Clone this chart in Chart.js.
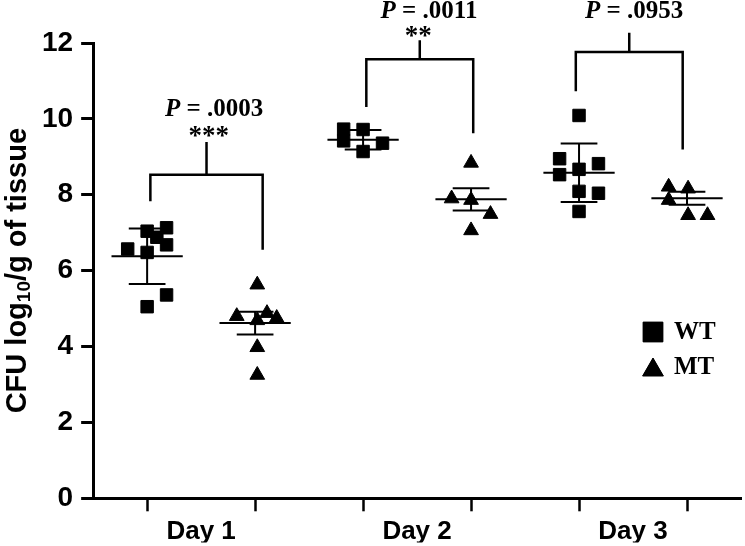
<!DOCTYPE html>
<html>
<head>
<meta charset="utf-8">
<script src="https://cdn.jsdelivr.net/npm/chart.js@4.4.1/dist/chart.umd.min.js"></script>
<style>
  html, body { margin: 0; background: #fff; overflow: hidden; }
  canvas { display: block; }
</style>
</head>
<body>
<canvas id="grafico" width="745" height="546"></canvas>
<script>
// ===========================
// DATOS
// ===========================
const dias = ["Day 1", "Day 2", "Day 3"];
const grupos = ["WT", "MT"];

// valores por dia (log10 CFU/g) y desplazamiento horizontal dentro del grupo
const wtValores = [
  [6.57, 7.04, 6.88, 7.13, 6.68, 6.48, 5.36, 5.05],
  [9.73, 9.42, 9.72, 9.14, 9.36],
  [10.09, 8.95, 8.53, 8.67, 8.82, 8.09, 8.04, 7.56]
];
const wtJitter = [
  [-0.18, 0, 0.09, 0.18, 0.18, 0, 0.18, 0],
  [-0.18, -0.18, 0, 0, 0.18],
  [0, -0.18, -0.18, 0, 0.18, 0, 0.18, 0]
];
const mtValores = [
  [5.63, 4.80, 4.88, 4.75, 4.69, 3.98, 3.25],
  [8.84, 7.90, 7.86, 7.49, 7.06],
  [8.21, 8.16, 7.86, 7.46, 7.46]
];
const mtJitter = [
  [0.02, -0.17, 0.11, 0.2, 0.02, 0.02, 0.02],
  [0, -0.18, 0, 0.18, 0],
  [-0.17, 0.01, -0.17, 0.01, 0.19]
];

const wtMedia = [6.38, 9.45, 8.58];
const wtError = [0.73, 0.255, 0.77];
const mtMedia = [4.62, 7.88, 7.91];
const mtError = [0.30, 0.295, 0.17];

const pValores = [".0003", ".0011", ".0953"];
const estrellas = ["***", "**", ""];

// ===========================
// ANOTACIONES (corchetes)
// ===========================
const corchetes = [
  { izq: 0.03, der: 1.07, yIzq: 7.83, yDer: 6.55, barra: 8.53, tope: 9.39, pY: 10.25, eY: 9.65, pX: 0.62, eX: 0.57 },
  { izq: 2.03, der: 3.02, yIzq: 10.31, yDer: 9.62, barra: 11.57, tope: 12.07, pY: 12.82, eY: 12.28, pX: 2.61, eX: 2.51 },
  { izq: 3.97, der: 4.96, yIzq: 10.73, yDer: 9.19, barra: 11.76, tope: 12.27, pY: 12.82, eY: 12.28, pX: 4.51, eX: 4.51 }
];

function puntos(valores, jitter, offset) {
  const out = [];
  valores.forEach((serie, d) => {
    serie.forEach((v, i) => out.push({ x: d * 2 + offset + jitter[d][i], y: v }));
  });
  return out;
}

const SANS = "'Liberation Sans', Arial, sans-serif";
const SERIF = "'Liberation Serif', 'Times New Roman', serif";

// sin relleno lateral en los ejes x (el area llega al borde)
function sinRelleno(ax) {
  ax.paddingLeft = 0;
  ax.paddingRight = 0;
}

// ===========================
// PLUGINS
// ===========================
const mediaPlugin = {
  id: "mediaSd",
  afterDatasetsDraw(chart) {
    const { ctx, scales: { x, y } } = chart;
    ctx.save();
    ctx.strokeStyle = "#000";
    ctx.lineWidth = 2;
    const dibujar = (pos, m, e) => {
      const px = x.getPixelForValue(pos);
      const ancho = x.getPixelForValue(pos + 0.33) - px;
      const tapa = x.getPixelForValue(pos + 0.17) - px;
      const ym = y.getPixelForValue(m);
      const yt = y.getPixelForValue(m + e);
      const yb = y.getPixelForValue(m - e);
      ctx.beginPath();
      ctx.moveTo(px - ancho, ym); ctx.lineTo(px + ancho, ym);
      ctx.moveTo(px, yt); ctx.lineTo(px, yb);
      ctx.moveTo(px - tapa, yt); ctx.lineTo(px + tapa, yt);
      ctx.moveTo(px - tapa, yb); ctx.lineTo(px + tapa, yb);
      ctx.stroke();
    };
    dias.forEach((d, i) => {
      dibujar(i * 2, wtMedia[i], wtError[i]);
      dibujar(i * 2 + 1, mtMedia[i], mtError[i]);
    });
    ctx.restore();
  }
};

const corchetePlugin = {
  id: "corchetes",
  afterDatasetsDraw(chart) {
    const { ctx, scales: { x, y } } = chart;
    ctx.save();
    ctx.strokeStyle = "#000";
    ctx.fillStyle = "#000";
    ctx.lineWidth = 2.5;
    corchetes.forEach((c, i) => {
      const xl = x.getPixelForValue(c.izq);
      const xr = x.getPixelForValue(c.der);
      const xm = (xl + xr) / 2;
      const yb = y.getPixelForValue(c.barra);
      ctx.beginPath();
      ctx.moveTo(xl, y.getPixelForValue(c.yIzq));
      ctx.lineTo(xl, yb);
      ctx.lineTo(xr, yb);
      ctx.lineTo(xr, y.getPixelForValue(c.yDer));
      ctx.moveTo(xm, yb);
      ctx.lineTo(xm, y.getPixelForValue(c.tope));
      ctx.stroke();

      // texto P
      ctx.textBaseline = "middle";
      ctx.textAlign = "left";
      const fP = "italic bold 25px " + SERIF;
      const fR = "bold 25px " + SERIF;
      const resto = " = " + pValores[i];
      ctx.font = fP;
      const wP = ctx.measureText("P").width;
      ctx.font = fR;
      const wR = ctx.measureText(resto).width;
      const x0 = x.getPixelForValue(c.pX) - (wP + wR) / 2;
      const ty = y.getPixelForValue(c.pY);
      ctx.font = fP;
      ctx.fillText("P", x0, ty);
      ctx.font = fR;
      ctx.fillText(resto, x0 + wP, ty);

      if (estrellas[i]) {
        ctx.textAlign = "center";
        ctx.font = "bold 27px " + SERIF;
        ctx.fillText(estrellas[i], x.getPixelForValue(c.eX), y.getPixelForValue(c.eY) + 5);
      }
    });
    ctx.restore();
  }
};

const leyendaPlugin = {
  id: "leyenda",
  afterDraw(chart) {
    const { ctx, chartArea } = chart;
    ctx.save();
    ctx.fillStyle = "#000";
    ctx.strokeStyle = "#000";
    ctx.font = "bold 25px " + SERIF;
    ctx.textBaseline = "middle";
    ctx.textAlign = "left";
    const cx = chartArea.right - 88;
    const filas = [chartArea.top + 289, chartArea.top + 324];
    chart.data.datasets.forEach((ds, i) => {
      const r = ds.pointStyle === "rect" ? 14 : 12;
      const cy = ds.pointStyle === "rect" ? filas[i] : filas[i] + 3;
      Chart.helpers.drawPoint(ctx, { pointStyle: ds.pointStyle, radius: r, borderWidth: 1 }, cx, cy);
      ctx.fill();
      ctx.fillText(ds.label, cx + 21, filas[i] + 1);
    });
    ctx.restore();
  }
};

const tituloYPlugin = {
  id: "tituloY",
  afterDraw(chart) {
    const { ctx, chartArea } = chart;
    const partes = [
      { t: "CFU log", f: "bold 29px " + SANS, dy: 0 },
      { t: "10", f: "bold 19px " + SANS, dy: 7 },
      { t: "/g of tissue", f: "bold 29px " + SANS, dy: 0 }
    ];
    ctx.save();
    let total = 0;
    partes.forEach(p => { ctx.font = p.f; p.w = ctx.measureText(p.t).width; total += p.w; });
    ctx.translate(18, (chartArea.top + chartArea.bottom) / 2);
    ctx.rotate(-Math.PI / 2);
    ctx.fillStyle = "#000";
    ctx.textBaseline = "middle";
    ctx.textAlign = "left";
    let px = -total / 2;
    partes.forEach(p => {
      ctx.font = p.f;
      ctx.fillText(p.t, px, p.dy);
      px += p.w;
    });
    ctx.restore();
  }
};

// ===========================
// GRAFICO
// ===========================
new Chart(document.getElementById("grafico"), {
  type: "scatter",
  data: {
    datasets: [
      {
        label: grupos[0],
        data: puntos(wtValores, wtJitter, 0),
        pointStyle: "rect",
        pointRadius: 8.8,
        pointHoverRadius: 8.8,
        backgroundColor: "#000",
        borderColor: "#000",
        borderWidth: 1
      },
      {
        label: grupos[1],
        data: puntos(mtValores, mtJitter, 1),
        pointStyle: "triangle",
        pointRadius: 8.5,
        pointHoverRadius: 8.5,
        backgroundColor: "#000",
        borderColor: "#000",
        borderWidth: 1
      }
    ]
  },
  options: {
    responsive: false,
    animation: false,
    events: [],
    layout: { autoPadding: false, padding: { left: 34, top: 43, right: 4, bottom: 3.5 } },
    plugins: {
      legend: { display: false },
      tooltip: { enabled: false }
    },
    scales: {
      x: {
        type: "linear",
        min: -0.5,
        max: 5.5,
        afterBuildTicks: ax => { ax.ticks = [0, 1, 2, 3, 4, 5].map(v => ({ value: v })); },
        afterFit: sinRelleno,
        ticks: { callback: () => "", font: { size: 1 }, padding: 0 },
        grid: { drawOnChartArea: false, drawTicks: true, tickLength: 13, tickColor: "#000", tickWidth: 2.5 },
        border: { color: "#000", width: 3 }
      },
      x2: {
        type: "linear",
        position: "bottom",
        min: -0.5,
        max: 5.5,
        afterBuildTicks: ax => { ax.ticks = dias.map((d, i) => ({ value: i * 2 + 0.5 })); },
        afterFit: sinRelleno,
        ticks: {
          callback: (v, i) => dias[i],
          color: "#000",
          font: { family: SANS, size: 26, weight: "bold", lineHeight: 1.0 },
          padding: -2,
          maxRotation: 0
        },
        grid: { display: false },
        border: { display: false }
      },
      y: {
        min: 0,
        max: 12,
        ticks: {
          stepSize: 2,
          color: "#000",
          font: { family: SANS, size: 28, weight: "bold" },
          padding: 8
        },
        grid: { drawOnChartArea: false, drawTicks: true, tickLength: 12, tickColor: "#000", tickWidth: 3 },
        border: { color: "#000", width: 3 }
      }
    }
  },
  plugins: [mediaPlugin, corchetePlugin, leyendaPlugin, tituloYPlugin]
});
</script>
</body>
</html>
